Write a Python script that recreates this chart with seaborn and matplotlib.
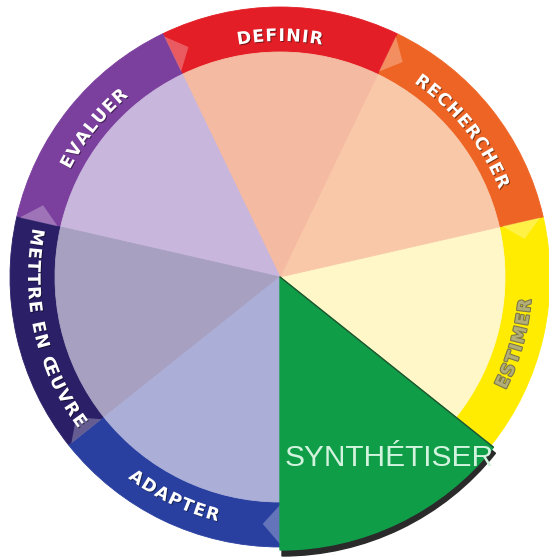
import numpy as np
import matplotlib
matplotlib.use("Agg")
import matplotlib.pyplot as plt
import matplotlib.patches as mpatches
import matplotlib.patheffects as pe
from matplotlib.font_manager import FontProperties
import seaborn as sns

# ── Data ────────────────────────────────────────────────────────────────────
# stages in counter-clockwise order, starting from 6 o'clock
stages = ["SYNTHÉTISER", "ESTIMER", "RECHERCHER", "DEFINIR",
          "EVALUER", "METTRE EN ŒUVRE", "ADAPTER"]
weights = [1, 1, 1, 1, 1, 1, 1]
ring_colors = ["#0F9D48", "#FFEC00", "#EE6424", "#E31E26",
               "#7B3F9E", "#2B2068", "#2940A0"]
inner_colors = ["#0F9D48", "#FFF7C8", "#F9C8A9", "#F5BAA2",
                "#C8B6DC", "#A7A0C1", "#ABAFD8"]
highlight = "SYNTHÉTISER"

# ── Layout (1 data unit = 1 pixel) ──────────────────────────────────────────
W, H = 549, 559
CX, CY = 280, 282
R_OUT, R_IN = 270, 225

sns.set_theme(style="white")
fig = plt.figure(figsize=(W / 100, H / 100), dpi=100)
fig.patch.set_facecolor("white")
ax = fig.add_axes([0, 0, 1, 1])

# outer ring + inner disc
ring, _ = ax.pie(weights, colors=ring_colors, radius=R_OUT, center=(CX, CY),
                 startangle=-90, counterclock=True, frame=True,
                 wedgeprops=dict(width=R_OUT - R_IN, linewidth=0.6))
inner, _ = ax.pie(weights, colors=inner_colors, radius=R_IN, center=(CX, CY),
                  startangle=-90, counterclock=True, frame=True,
                  wedgeprops=dict(linewidth=0.6))
for w, c in zip(ring, ring_colors):
    w.set_edgecolor(c)
for w, c in zip(inner, inner_colors):
    w.set_edgecolor(c)

# angles of each stage, from the weights
edges = np.concatenate([[0], np.cumsum(weights)]) / sum(weights) * 360 - 90
starts, ends = edges[:-1], edges[1:]

# highlighted stage: a full wedge with a drop shadow
hi = stages.index(highlight)
ax.add_patch(mpatches.Wedge((CX + 2, CY - 6), R_OUT + 3, starts[hi], ends[hi],
                            color="#2A2A2A", zorder=3))
ax.add_patch(mpatches.Wedge((CX, CY), R_OUT + 3, starts[hi], ends[hi],
                            color=ring_colors[hi], zorder=4))
ax.plot([CX, CX + (R_OUT + 3) * np.cos(np.radians(ends[hi]))],
        [CY, CY + (R_OUT + 3) * np.sin(np.radians(ends[hi]))],
        color="#24502F", lw=0.9, zorder=5)


def polar(r, deg):
    a = np.radians(deg)
    return CX + r * np.cos(a), CY + r * np.sin(a)


# lighter chevrons at the end of each ring arrow
for i, name in enumerate(stages):
    if name == highlight:
        continue
    light = sns.blend_palette([ring_colors[i], "white"], 5)[2]
    te = ends[i]
    pts = [polar(R_IN + 3, te), polar(R_OUT - 3, te),
           polar((R_IN + R_OUT) / 2, te - 4)]
    ax.add_patch(mpatches.Polygon(pts, closed=True, color=light, alpha=0.55,
                                  lw=0, zorder=2))

# curved labels on the ring
renderer = fig.canvas.get_renderer()
fp = FontProperties(family="DejaVu Sans", weight="bold", size=12.5)
track = 1.2
shadow = [pe.withSimplePatchShadow(offset=(0.7, -0.7), shadow_rgbFace="black",
                                   alpha=0.45)]

for i, name in enumerate(stages):
    if name == highlight:
        continue
    mid = (starts[i] + ends[i]) / 2 % 360
    top = 0 < mid < 180
    r = 241 if top else 247
    if name == "ESTIMER":
        mid -= 3
    widths = []
    for ch in name:
        if ch == " ":
            widths.append(6.5)
        else:
            widths.append(renderer.get_text_width_height_descent(ch, fp, ismath=False)[0])
    total = sum(widths) + track * (len(widths) - 1)
    span = np.degrees(total / r)
    pos = 0.0
    if name == "ESTIMER":
        color, effects = "#B3AE78", [pe.withStroke(linewidth=1.6, foreground="#7C7848")]
    else:
        color, effects = "white", shadow
    for ch, w in zip(name, widths):
        off = np.degrees((pos + w / 2) / r)
        if top:
            ang = mid + span / 2 - off
            rot = ang - 90
        else:
            ang = mid - span / 2 + off
            rot = ang + 90
        x, y = polar(r, ang)
        if ch != " ":
            ax.text(x, y, ch, fontproperties=fp, color=color, rotation=rot,
                    rotation_mode="anchor", ha="center", va="center",
                    path_effects=effects, zorder=6)
        pos += w + track

# label of the highlighted stage
ax.text(CX + 5, 101, highlight, family="Liberation Sans", fontsize=21.5,
        color="#D2F3DE", ha="left", va="center", zorder=7)

ax.set_xlim(0, W)
ax.set_ylim(0, H)
ax.set_aspect("equal")
ax.axis("off")

fig.savefig("out.png", dpi=100, facecolor="white")
